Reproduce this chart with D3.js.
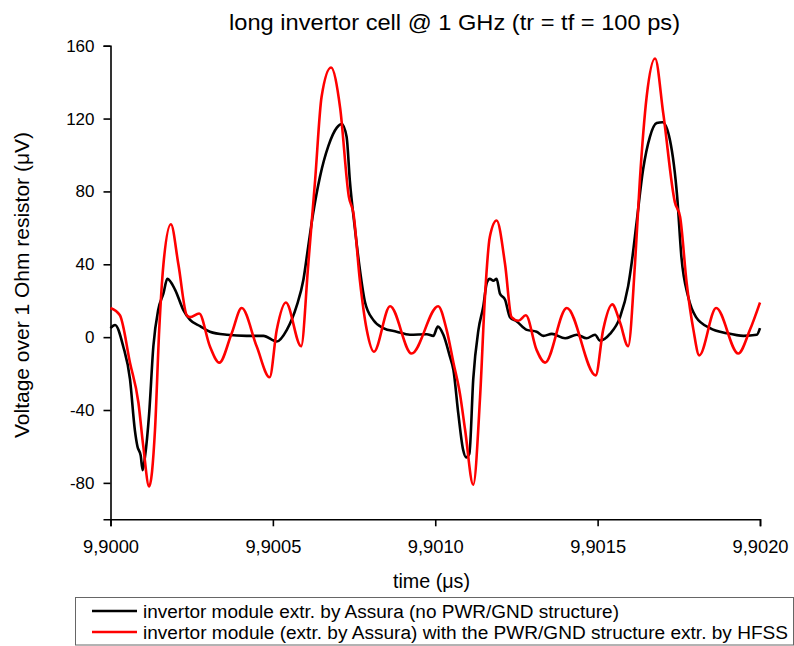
<!DOCTYPE html>
<html>
<head>
<meta charset="utf-8">
<script src="https://cdn.jsdelivr.net/npm/d3@7"></script>
<style>
  body { margin: 0; background: #fff; }
  svg { display: block; font-family: "Liberation Sans", Arial, sans-serif; }
</style>
</head>
<body>
<svg id="chart" width="794" height="646"></svg>
<script>
// ---- data (time in µs, voltage in µV) ----
const titleText = "long invertor cell @ 1 GHz (tr = tf = 100 ps)";
const xLabel = "time (\u03bcs)";
const yLabel = "Voltage over 1 Ohm resistor (\u03bcV)";
const xTicks = [9.9000, 9.9005, 9.9010, 9.9015, 9.9020];
const yTicks = [-80, -40, 0, 40, 80, 120, 160];
const seriesNames = [
  "invertor module extr. by Assura (no PWR/GND structure)",
  "invertor module (extr. by Assura) with the PWR/GND structure extr. by HFSS"
];

const blackT = [9.900000,9.900014,9.900039,9.900060,9.900075,9.900083,9.900093,9.900099,9.900106,9.900119,
  9.900132,9.900147,9.900163,9.900175,9.900199,9.900224,9.900245,9.900276,9.900306,9.900358,
  9.900419,9.900471,9.900512,9.900543,9.900573,9.900594,9.900609,9.900624,9.900645,9.900671,
  9.900697,9.900712,9.900727,9.900737,9.900753,9.900768,9.900784,9.900809,9.900840,9.900881,
  9.900922,9.900974,9.900994,9.901008,9.901025,9.901045,9.901056,9.901071,9.901086,9.901095,
  9.901105,9.901117,9.901133,9.901148,9.901159,9.901168,9.901179,9.901189,9.901199,9.901215,
  9.901230,9.901251,9.901282,9.901312,9.901333,9.901359,9.901400,9.901436,9.901466,9.901492,
  9.901507,9.901538,9.901569,9.901594,9.901605,9.901620,9.901640,9.901661,9.901682,9.901700,
  9.901723,9.901745,9.901758,9.901779,9.901803,9.901846,9.901897,9.901949,9.901990,9.902000];
const blackV = [5,6.7,-5,-23,-51,-60,-65,-73,-66,-42,
  -5,15,24,32,26,15,9.5,6,3,1.3,
  0.7,0.7,-2.4,4,17,31.5,50,68,88,105,
  115,117,110,86,59,37,19,9.5,5,3,
  1.3,1.6,0.7,5.8,1.3,-10.6,-18,-42,-62,-66,
  -64,-23,4,17,30,32,31,32,24,20.5,
  11,8.6,4,3,0.7,1.8,-0.6,1.3,-0.6,1.3,
  -1.9,1.8,11,28,41,63,92,110,117.5,118,
  108,77,44,22,11,5,2.2,0.7,1.3,5];

const redT = [9.900000,9.900029,9.900060,9.900086,9.900101,9.900119,9.900137,9.900150,9.900163,9.900186,
  9.900209,9.900235,9.900245,9.900273,9.900306,9.900335,9.900373,9.900404,9.900450,9.900490,
  9.900512,9.900540,9.900587,9.900609,9.900630,9.900650,9.900679,9.900707,9.900734,9.900748,
  9.900768,9.900789,9.900811,9.900861,9.900927,9.901009,9.901035,9.901056,9.901076,9.901092,
  9.901117,9.901138,9.901153,9.901168,9.901189,9.901215,9.901235,9.901256,9.901279,9.901312,
  9.901338,9.901405,9.901494,9.901517,9.901545,9.901569,9.901594,9.901615,9.901630,9.901651,
  9.901677,9.901702,9.901738,9.901754,9.901774,9.901795,9.901813,9.901865,9.901933,9.901969,
  9.902000];
const redV = [16,12,-14,-36,-60,-82,-51,4,40,62,
  40,12,11,13,-5,-14,2,16,-5,-22,
  4,19,-5,40,86,132,148,126,77,68,
  31,4,-8,17,-9,17,4,-14,-31,-51,
  -81,-33,22,55,64,40,11,9,12,-7,
  -14,16,-21,4,18,8,-5,40,86,132,
  153,123,74,66,30,4,-10,16,-9,4,
  19];

// ---- layout ----
const X0 = 110.5, X1 = 760, Y0 = 519.3, Y1 = 45.7;
const svg = d3.select("#chart");
const x = d3.scaleLinear().domain([9.9000, 9.9020]).range([X0, X1]);
const y = d3.scaleLinear().domain([-100, 160]).range([Y0, Y1]);
const fmtX = v => d3.format(".4f")(v).replace(".", ",");
const fmtY = v => String(v);

const xMinor = [9.90025, 9.90075, 9.90125, 9.90175];
const yMinorVals = [-100, -60, -20, 20, 60, 100, 140];

const gx = svg.append("g").attr("transform", `translate(0,${Y0})`);
gx.call(d3.axisBottom(x).tickValues(xMinor).tickSize(4).tickFormat(""))
  .call(g => g.select(".domain").remove());
gx.call(d3.axisBottom(x).tickValues(xTicks).tickSize(7).tickPadding(14).tickFormat(fmtX));
gx.selectAll("text").attr("font-size", 18).attr("fill", "#000")
  .attr("font-family", "Liberation Sans, Arial, sans-serif")
  .attr("textLength", 56).attr("lengthAdjust", "spacingAndGlyphs");

const gy = svg.append("g").attr("transform", `translate(${X0},0)`);
gy.call(d3.axisLeft(y).tickValues(yMinorVals).tickSize(4).tickFormat(""))
  .call(g => g.select(".domain").remove());
gy.call(d3.axisLeft(y).tickValues(yTicks).tickSize(7).tickPadding(9).tickFormat(fmtY));
gy.selectAll("text").attr("font-size", 17).attr("fill", "#000")
  .attr("font-family", "Liberation Sans, Arial, sans-serif");

svg.selectAll(".domain").attr("stroke", "#000").attr("stroke-width", 1.6);
svg.selectAll(".tick line").attr("stroke", "#000").attr("stroke-width", 1.6);

// ---- lines ----
const line = d3.line().x(d => x(d[0])).y(d => y(d[1])).curve(d3.curveMonotoneX);
const blackData = blackT.map((t, i) => [t, blackV[i]]);
const redData = redT.map((t, i) => [t, redV[i]]);

svg.append("path").datum(blackData).attr("d", line)
  .attr("fill", "none").attr("stroke", "#000").attr("stroke-width", 2.6);
svg.append("path").datum(redData).attr("d", line)
  .attr("fill", "none").attr("stroke", "#ff0000").attr("stroke-width", 2.6);

// ---- texts ----
svg.append("text").attr("x", 229).attr("y", 30)
  .attr("font-size", 22).attr("textLength", 451).attr("lengthAdjust", "spacingAndGlyphs")
  .text(titleText);
svg.append("text").attr("x", 393).attr("y", 588)
  .attr("font-size", 20).attr("textLength", 77).attr("lengthAdjust", "spacingAndGlyphs")
  .text(xLabel);
svg.append("text").attr("transform", "translate(29,438) rotate(-90)")
  .attr("font-size", 20).attr("textLength", 306).attr("lengthAdjust", "spacingAndGlyphs")
  .text(yLabel);

// ---- legend ----
const lg = svg.append("g");
lg.append("rect").attr("x", 75.5).attr("y", 597.5).attr("width", 718).attr("height", 47.5)
  .attr("fill", "#fff").attr("stroke", "#666").attr("stroke-width", 1);
const colors = ["#000", "#ff0000"];
const legLen = [476, 645];
seriesNames.forEach((name, i) => {
  const yy = 611 + i * 21;
  lg.append("line").attr("x1", 92).attr("x2", 137).attr("y1", yy).attr("y2", yy)
    .attr("stroke", colors[i]).attr("stroke-width", 2.6);
  lg.append("text").attr("x", 143).attr("y", yy + 6.5).attr("font-size", 18)
    .attr("textLength", legLen[i]).attr("lengthAdjust", "spacingAndGlyphs").text(name);
});
</script>
</body>
</html>
